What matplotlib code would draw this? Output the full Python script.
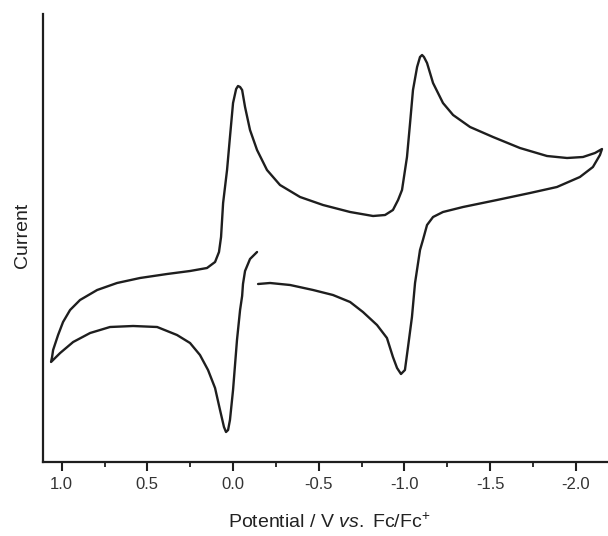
import numpy as np
import matplotlib
matplotlib.use("Agg")
import matplotlib.pyplot as plt
from matplotlib.ticker import MultipleLocator

# cyclic voltammogram: potential (V vs Fc/Fc+), current (a.u.)
# forward scan from -0.15 V to -2.15 V
e_fwd = [-0.146, -0.216, -0.333, -0.467, -0.583, -0.683, -0.758, -0.840, -0.898, -0.933,
         -0.957, -0.980, -1.003, -1.021, -1.044, -1.062, -1.091, -1.108, -1.132, -1.167,
         -1.225, -1.342, -1.540, -1.733, -1.890, -2.024, -2.100, -2.141, -2.153]
i_fwd = [1.80, 1.81, 1.79, 1.74, 1.69, 1.62, 1.52, 1.39, 1.26, 1.07,
         0.96, 0.90, 0.94, 1.17, 1.47, 1.81, 2.14, 2.24, 2.39, 2.47,
         2.52, 2.57, 2.64, 2.71, 2.77, 2.87, 2.97, 3.09, 3.15]

# reverse scan from -2.15 V to +1.06 V
e_rev = [-2.112, -2.042, -1.949, -1.832, -1.674, -1.517, -1.383, -1.284, -1.225, -1.167,
         -1.132, -1.114, -1.103, -1.091, -1.074, -1.050, -1.033, -1.015, -0.986, -0.963,
         -0.933, -0.887, -0.817, -0.683, -0.525, -0.391, -0.274, -0.198, -0.140, -0.099,
         -0.070, -0.053, -0.041, -0.029, -0.018, 0.000, 0.018, 0.035, 0.058, 0.070,
         0.082, 0.105, 0.152, 0.251, 0.385, 0.543, 0.677, 0.793, 0.893, 0.951,
         0.992, 1.021, 1.050, 1.056, 1.062]
i_rev = [3.11, 3.07, 3.06, 3.08, 3.16, 3.27, 3.37, 3.49, 3.61, 3.81,
         4.01, 4.07, 4.09, 4.07, 3.97, 3.74, 3.41, 3.07, 2.74, 2.64,
         2.54, 2.49, 2.48, 2.52, 2.59, 2.67, 2.79, 2.94, 3.14, 3.34,
         3.57, 3.74, 3.77, 3.78, 3.75, 3.61, 3.27, 2.94, 2.61, 2.27,
         2.12, 2.02, 1.96, 1.93, 1.90, 1.86, 1.81, 1.74, 1.64, 1.54,
         1.42, 1.29, 1.14, 1.07, 1.02]

# last scan back from +1.06 V to -0.14 V
e_back = [1.009, 0.933, 0.834, 0.718, 0.583, 0.443, 0.327, 0.251, 0.193, 0.146,
          0.105, 0.076, 0.053, 0.041, 0.029, 0.018, 0.000, -0.023, -0.041, -0.053,
          -0.058, -0.070, -0.099, -0.140]
i_back = [1.11, 1.22, 1.31, 1.37, 1.38, 1.37, 1.29, 1.21, 1.09, 0.94,
          0.76, 0.54, 0.37, 0.32, 0.34, 0.44, 0.74, 1.24, 1.54, 1.68,
          1.80, 1.93, 2.05, 2.12]

x_ticks = [1.0, 0.5, 0.0, -0.5, -1.0, -1.5, -2.0]

plt.rcParams['font.family'] = ['Liberation Sans', 'DejaVu Sans']
plt.rcParams['mathtext.fontset'] = 'custom'
plt.rcParams['mathtext.rm'] = 'Liberation Sans'
plt.rcParams['mathtext.it'] = 'Liberation Sans:italic'

potential = e_fwd + e_rev + e_back
current = i_fwd + i_rev + i_back

fig = plt.figure(figsize=(6.08, 5.36), dpi=100)
ax = fig.add_axes([43/608, 74/536, 565/608, 448/536])

ax.plot(potential, current, color='#1e1e1e', lw=1.7,
        solid_joinstyle='round', solid_capstyle='round')

ax.set_xlim(1.109, -2.188)
ax.set_ylim(0.02, 4.50)
ax.set_xticks(x_ticks)
ax.set_xticklabels(['%.1f' % t for t in x_ticks])
ax.xaxis.set_minor_locator(MultipleLocator(0.25))
ax.set_yticks([])

for s in ['top', 'right']:
    ax.spines[s].set_visible(False)
for s in ['left', 'bottom']:
    ax.spines[s].set_linewidth(1.6)
    ax.spines[s].set_color('#1e1e1e')

ax.tick_params(axis='x', which='major', direction='out', length=6.5, width=1.5,
               labelsize=12, colors='#1e1e1e', labelcolor='#333333', pad=4)
ax.tick_params(axis='x', which='minor', direction='out', length=3.8, width=1.3,
               colors='#1e1e1e')

ax.set_xlabel(r'Potential / V $\it{vs.}$ Fc/Fc$^{+}$', fontsize=14, color='#222222',
              va='top')
ax.xaxis.set_label_coords(0.507, -0.113)
ax.set_ylabel('Current', fontsize=14, color='#222222')
ax.yaxis.set_label_coords(-0.022, 0.505)

fig.savefig('out.png', dpi=100, facecolor='white')
